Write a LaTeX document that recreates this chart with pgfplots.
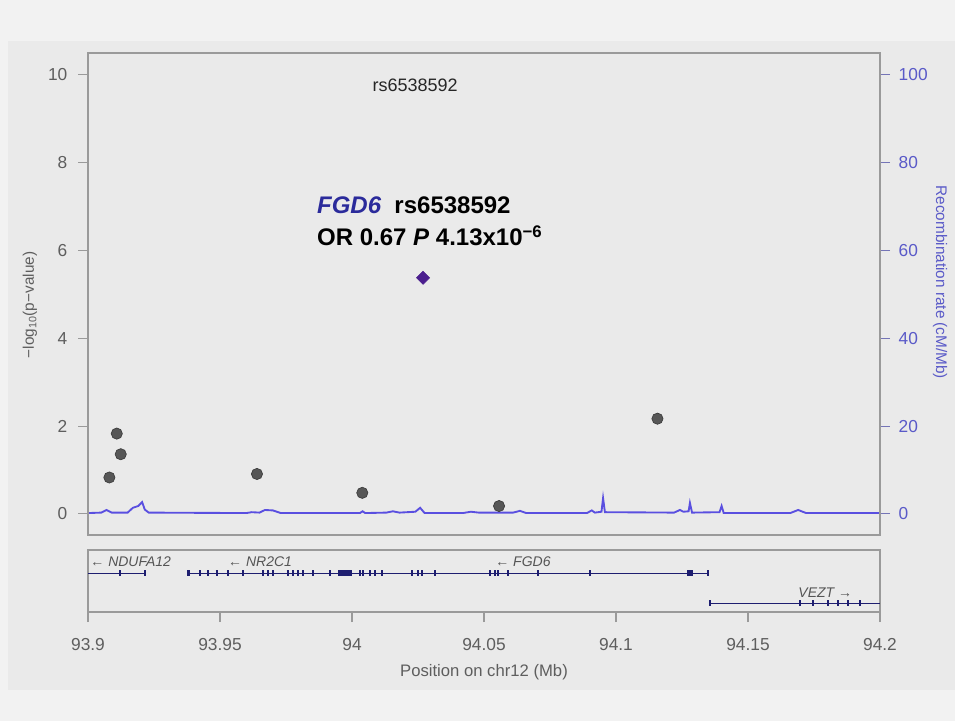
\documentclass[border=0pt]{standalone}
\usepackage{fontspec}
\setmainfont{Liberation Sans}
\usepackage{pgfplots}
\pgfplotsset{compat=1.18}
\definecolor{bgout}{HTML}{F2F2F2}
\definecolor{bgin}{HTML}{EAEAEA}
\definecolor{framec}{HTML}{9A9A9A}
\definecolor{tickc}{HTML}{5E5E5E}
\definecolor{recc}{HTML}{5A4FE0}
\definecolor{rectick}{HTML}{5A5AC8}
\definecolor{ptc}{HTML}{575757}
\definecolor{ptd}{HTML}{3C3C3C}
\definecolor{diamc}{HTML}{4B1E8E}
\definecolor{genec}{HTML}{1E1E70}
\definecolor{fgdc}{HTML}{2B2B9B}
\definecolor{genelab}{HTML}{555555}

\pgfplotstableread{
x y
93.900 0.2
93.905 0.3
93.907 0.9
93.909 0.3
93.915 0.3
93.917 1.4
93.919 1.8
93.9205 2.7
93.9215 1.0
93.923 0.3
93.960 0.2
93.962 0.4
93.965 0.3
93.967 0.9
93.970 0.8
93.973 0.2
94.003 0.2
94.004 0.6
94.005 0.2
94.013 0.3
94.0155 0.6
94.018 0.3
94.024 0.5
94.0258 1.4
94.0275 0.2
94.042 0.2
94.045 0.5
94.048 0.3
94.061 0.3
94.0636 0.7
94.066 0.2
94.089 0.2
94.0908 0.8
94.092 0.3
94.0945 0.5
94.0951 3.6
94.0958 0.4
94.122 0.3
94.1242 0.9
94.1255 0.5
94.1275 0.6
94.128 2.5
94.1288 0.3
94.1392 0.4
94.140 1.8
94.1408 0.2
94.166 0.2
94.169 0.9
94.172 0.2
94.200 0.2
}\recomb

\begin{document}
\begin{tikzpicture}
\useasboundingbox (0,0) rectangle (716.25pt,540.75pt);
\fill[bgout] (0,0) rectangle (716.25pt,540.75pt);
\fill[bgin] (6pt,23.25pt) rectangle (716.25pt,510pt);

\pgfplotsset{
  common/.style={
    scale only axis, width=594pt, xmin=93.9, xmax=94.2,
    axis line style={framec, line width=0.8pt},
    tick style={framec, line width=0.8pt},
    tick align=outside, major tick length=7.5pt,
    tick label style={font=\fontsize{13}{15}\selectfont},
    /pgf/number format/assume math mode=true,
    clip=false,
  }
}

% recombination rate (right axis)
\begin{axis}[common, at={(66pt,139.5pt)}, anchor=south west, height=361.5pt,
  ymin=-4.8, ymax=105, axis y line*=right, axis x line=none,
  ytick={0,20,...,100}, yticklabel style={text=rectick, xshift=3pt},
  tick style={rectick!60!framec, line width=0.8pt}]
\addplot[recc, line width=1.4pt] table[x=x,y=y] {\recomb};
\end{axis}

% association (left axis)
\begin{axis}[common, at={(66pt,139.5pt)}, anchor=south west, height=361.5pt,
  ymin=-0.48, ymax=10.5, ytick={0,2,...,10}, ytick pos=left, xtick=\empty,
  yticklabel style={text=tickc, xshift=-4.5pt}]
\addplot[only marks, mark=*, mark size=4.2pt, mark options={fill=ptc, draw=ptd, line width=0.5pt}]
  coordinates {(93.9081,0.83) (93.9109,1.83) (93.9124,1.36) (93.9640,0.91) (94.0039,0.48) (94.0557,0.18) (94.1157,2.17)};
\addplot[only marks, mark=square*, mark size=3.5pt, mark options={fill=diamc, draw=diamc, rotate=45}]
  coordinates {(94.0269,5.38)};
\node[anchor=center, text=black!85, font=\fontsize{13.5}{15}\selectfont] at (axis cs:94.0239,9.77) {rs6538592};
\node[anchor=west, font=\fontsize{18}{20}\selectfont\bfseries, inner sep=0pt] at (axis cs:93.9867,7.04) {\textcolor{fgdc}{\textit{FGD6}}\hspace{0.55em}rs6538592};
\node[anchor=west, font=\fontsize{18}{20}\selectfont\bfseries, inner sep=0pt] at (axis cs:93.9867,6.33) {OR 0.67 \textit{P} 4.13x10\textsuperscript{−6}};
\end{axis}

% gene track
\begin{axis}[common, at={(66pt,81.75pt)}, anchor=south west, height=46.5pt,
  ymin=0, ymax=1, ytick=\empty, xtick pos=bottom,
  xtick={93.9,93.95,94,94.05,94.1,94.15,94.2},
  xticklabels={93.9,93.95,94,94.05,94.1,94.15,94.2},
  xticklabel style={text=tickc, yshift=-9pt}]
\addplot[genec, line width=0.6pt] coordinates {(93.9,0.629) (93.9216,0.629)};
\addplot[genec, line width=0.6pt] coordinates {(93.938,0.629) (94.1348,0.629)};
\addplot[genec, line width=0.6pt] coordinates {(94.1356,0.145) (94.2,0.145)};
\addplot[only marks, mark=|, mark size=2.2pt, mark options={genec, line width=1.1pt}]
  coordinates {(93.9121,0.629) (93.9216,0.629) (93.9424,0.629) (93.9455,0.629) (93.953,0.629) (93.9587,0.629)
  (93.9663,0.629) (93.9682,0.629) (93.9701,0.629) (93.9777,0.629) (93.9795,0.629) (93.9814,0.629) (93.9852,0.629)
  (93.9917,0.629) (94.003,0.629) (94.0042,0.629) (94.0068,0.629) (94.0087,0.629) (94.0114,0.629) (94.0227,0.629)
  (94.025,0.629) (94.0265,0.629) (94.0314,0.629) (94.0523,0.629) (94.0542,0.629) (94.0553,0.629) (94.0591,0.629)
  (94.0705,0.629) (94.0902,0.629) (94.1348,0.629)
  (94.1356,0.145) (94.1697,0.145) (94.1746,0.145) (94.1803,0.145) (94.184,0.145) (94.1879,0.145) (94.1924,0.145)};
\addplot[genec, line width=4.5pt] coordinates {(93.9375,0.629) (93.9388,0.629)};
\addplot[genec, line width=4pt] coordinates {(93.9483,0.629) (93.9493,0.629)};
\addplot[genec, line width=4pt] coordinates {(93.9753,0.629) (93.9763,0.629)};
\addplot[genec, line width=4.5pt] coordinates {(93.9947,0.629) (94.0,0.629)};
\addplot[genec, line width=4.5pt] coordinates {(94.1269,0.629) (94.1292,0.629)};
\node[anchor=west, text=genelab, font=\fontsize{10.5}{12}\selectfont\itshape, inner sep=0pt] at (axis cs:93.9008,0.806) {← NDUFA12};
\node[anchor=west, text=genelab, font=\fontsize{10.5}{12}\selectfont\itshape, inner sep=0pt] at (axis cs:93.953,0.806) {← NR2C1};
\node[anchor=west, text=genelab, font=\fontsize{10.5}{12}\selectfont\itshape, inner sep=0pt] at (axis cs:94.0542,0.806) {← FGD6};
\node[anchor=west, text=genelab, font=\fontsize{10.5}{12}\selectfont\itshape, inner sep=0pt] at (axis cs:94.169,0.306) {VEZT →};
\end{axis}

\node[rotate=90, text=tickc, font=\fontsize{11.5}{13}\selectfont] at (22.5pt,312pt) {−log\textsubscript{10}(p−value)};
\node[rotate=-90, text=rectick, font=\fontsize{11.5}{13}\selectfont] at (705pt,329pt) {Recombination rate (cM/Mb)};
\node[text=tickc, font=\fontsize{12.5}{14}\selectfont] at (363pt,36.75pt) {Position on chr12 (Mb)};
\end{tikzpicture}
\end{document}
